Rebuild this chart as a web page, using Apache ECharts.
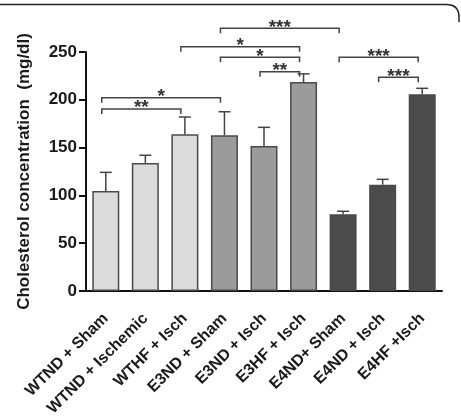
<!DOCTYPE html>
<html>
<head>
<meta charset="utf-8">
<script src="https://cdn.jsdelivr.net/npm/echarts@6/dist/echarts.min.js"></script>
<style>
  html, body { margin: 0; padding: 0; background: #fff; }
  #chart { width: 461px; height: 416px; }
</style>
</head>
<body>
<div id="chart"></div>
<script>
const categories = ['WTND + Sham', 'WTND + Ischemic', 'WTHF + Isch', 'E3ND + Sham', 'E3ND + Isch',
  'E3HF + Isch', 'E4ND+ Sham', 'E4ND + Isch', 'E4HF +Isch']
const groups = ['WT', 'WT', 'WT', 'E3', 'E3', 'E3', 'E4', 'E4', 'E4']
const means = [104.6, 134, 164, 163, 151.7, 218.6, 80.2, 111.2, 205.8]
const errors = [19.5, 8, 18, 24.5, 19.5, 8.5, 3.2, 5.6, 6.2]
const yTicks = [0, 50, 100, 150, 200, 250]

// significance brackets: from bar, to bar, height (mg/dl), stars
const bracketFrom = [3, 2, 3, 4, 0, 0, 6, 7]
const bracketTo = [6, 5, 5, 5, 3, 2, 8, 8]
const bracketLevel = [274.8, 255.5, 244.4, 229.4, 202.2, 190.4, 244.4, 223.5]
const bracketStars = ['***', '*', '*', '**', '*', '**', '***', '***']

const groupColor = { WT: '#dcdcdc', E3: '#9b9b9b', E4: '#4b4b4b' }
const font = 'Liberation Sans, Arial, sans-serif'

const chart = echarts.init(document.getElementById('chart'), undefined, { renderer: 'canvas' })

const option = {
  animation: false,
  backgroundColor: '#fff',
  // keep the plot area fixed, labels may run past the bottom edge like in the figure
  grid: { left: 86, right: 19, top: 52, bottom: 125, outerBoundsMode: 'none', containLabel: false },
  xAxis: {
    type: 'category',
    data: categories,
    axisLine: { lineStyle: { color: '#111', width: 2 } },
    axisTick: { alignWithLabel: true, length: 7, lineStyle: { color: '#111', width: 2 } },
    axisLabel: {
      rotate: 45, margin: 25, interval: 0,
      color: '#1a1a1a', fontFamily: font, fontWeight: 'bold', fontSize: 16
    }
  },
  yAxis: {
    type: 'value',
    min: yTicks[0], max: yTicks[yTicks.length - 1], interval: 50,
    name: 'Cholesterol concentration  (mg/dl)',
    nameLocation: 'middle', nameGap: 53,
    nameTextStyle: { color: '#1a1a1a', fontFamily: font, fontWeight: 'bold', fontSize: 17 },
    axisLine: { show: true, lineStyle: { color: '#111', width: 2 } },
    axisTick: { show: true, length: 7, lineStyle: { color: '#111', width: 2 } },
    axisLabel: { margin: 9, color: '#1a1a1a', fontFamily: font, fontWeight: 'bold', fontSize: 17 },
    splitLine: { show: false }
  },
  series: [
    {
      type: 'bar',
      barWidth: 27,
      data: means.map((m, i) => ({
        value: m,
        itemStyle: { color: groupColor[groups[i]], borderColor: '#4a4a4a', borderWidth: 1.5 }
      }))
    },
    {
      // error bars (upper half only)
      type: 'custom',
      clip: false,
      data: means.map((m, i) => [i, m, m + errors[i]]),
      renderItem: (params, api) => {
        const base = api.coord([api.value(0), api.value(1)])
        const top = api.coord([api.value(0), api.value(2)])
        const style = { stroke: '#444', lineWidth: 1.5, fill: null }
        return {
          type: 'group',
          children: [
            { type: 'line', shape: { x1: base[0], y1: base[1], x2: top[0], y2: top[1] }, style },
            { type: 'line', shape: { x1: top[0] - 6, y1: top[1], x2: top[0] + 6, y2: top[1] }, style }
          ]
        }
      }
    },
    {
      type: 'custom',
      clip: false,
      data: bracketFrom.map((f, i) => [f, bracketTo[i], bracketLevel[i]]),
      renderItem: (params, api) => {
        const a = api.coord([api.value(0), api.value(2)])
        const b = api.coord([api.value(1), api.value(2)])
        const x1 = a[0] - 4, x2 = b[0] - 4, y = a[1]
        return {
          type: 'group',
          children: [
            {
              type: 'polyline',
              shape: { points: [[x1, y + 5], [x1, y], [x2, y], [x2, y + 5]] },
              style: { stroke: '#444', lineWidth: 1.5, fill: null }
            },
            {
              type: 'text',
              style: {
                text: bracketStars[params.dataIndex],
                x: (x1 + x2) / 2, y: y - 1,
                align: 'center', verticalAlign: 'middle',
                fill: '#333', font: 'bold 19px ' + font
              }
            }
          ]
        }
      }
    }
  ],
  graphic: [
    { type: 'line', shape: { x1: 0, y1: 4.5, x2: 446, y2: 4.5 }, style: { stroke: '#222', lineWidth: 1.5 } },
    {
      type: 'bezierCurve',
      shape: { x1: 446, y1: 4.5, cpx1: 459, cpy1: 4.5, x2: 459, y2: 17 },
      style: { stroke: '#222', lineWidth: 1.5, fill: null }
    },
    { type: 'line', shape: { x1: 459, y1: 17, x2: 459, y2: 22 }, style: { stroke: '#222', lineWidth: 1.5 } }
  ]
}

chart.setOption(option)
</script>
</body>
</html>
